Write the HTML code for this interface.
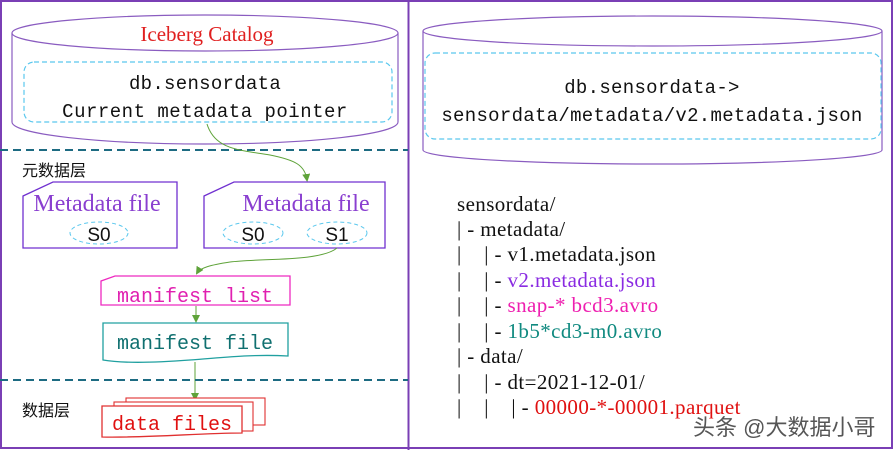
<!DOCTYPE html>
<html><head><meta charset="utf-8"><style>
body{margin:0;background:#fff;}
svg{display:block}
.mono{font-family:"Liberation Mono","Noto Sans CJK SC",monospace;}
.serif{font-family:"Liberation Serif","Noto Serif CJK SC",serif;}
.cjk{font-family:"Liberation Sans","Noto Sans CJK SC",sans-serif;}
</style></head><body>
<svg width="893" height="450" viewBox="0 0 893 450" xmlns="http://www.w3.org/2000/svg">
<defs>
<marker id="ar" markerWidth="8" markerHeight="8" refX="6" refY="4" orient="auto" markerUnits="userSpaceOnUse"><path d="M0,0 L8,4 L0,8 z" fill="#5fa33a"/></marker>
</defs>
<rect x="0" y="0" width="893" height="450" fill="#fff"/>
<rect x="1" y="1" width="891" height="447" fill="none" stroke="#7a3fb5" stroke-width="2"/>
<line x1="408.5" y1="0" x2="408.5" y2="450" stroke="#7a3fb5" stroke-width="2"/>

<!-- left cylinder -->
<path d="M12,33 L12,122 A193,22 0 0 0 398,122 L398,33" fill="#fff" stroke="#8a5cc0" stroke-width="1.2"/>
<ellipse cx="205" cy="33" rx="193" ry="18" fill="#fff" stroke="#8a5cc0" stroke-width="1.2"/>
<text x="207" y="41" text-anchor="middle" class="serif" font-size="21" fill="#e02020">Iceberg Catalog</text>
<rect x="24" y="62" width="368" height="60" rx="10" fill="none" stroke="#5bc8ee" stroke-dasharray="5,3" stroke-width="1.2"/>
<text x="205" y="89" text-anchor="middle" class="mono" font-size="19" letter-spacing="0.3" fill="#111">db.sensordata</text>
<text x="205" y="117" text-anchor="middle" class="mono" font-size="19" letter-spacing="0.5" fill="#111">Current metadata pointer</text>

<line x1="0" y1="150" x2="408" y2="150" stroke="#1d6b82" stroke-width="2" stroke-dasharray="8,5"/>
<text x="22" y="176" class="cjk" font-size="16" fill="#111">元数据层</text>

<path d="M207,124 C215,150 240,150 270,155 C295,160 305,165 307,180" fill="none" stroke="#5fa33a" stroke-width="1" marker-end="url(#ar)"/>

<!-- metadata files -->
<path d="M23,196 L53,182 L177,182 L177,248 L23,248 z" fill="#fff" stroke="#7030d0" stroke-width="1.3"/>
<text x="97" y="211" text-anchor="middle" class="serif" font-size="24" fill="#8a3fd0">Metadata file</text>
<ellipse cx="99" cy="233" rx="29" ry="11" fill="none" stroke="#5bc8ee" stroke-dasharray="4,3"/>
<text x="99" y="241" text-anchor="middle" class="cjk" font-size="19" fill="#111">S0</text>

<path d="M204,196 L234,182 L385,182 L385,248 L204,248 z" fill="#fff" stroke="#7030d0" stroke-width="1.3"/>
<text x="306" y="211" text-anchor="middle" class="serif" font-size="24" fill="#8a3fd0">Metadata file</text>
<ellipse cx="253" cy="233" rx="30" ry="11" fill="none" stroke="#5bc8ee" stroke-dasharray="4,3"/>
<text x="253" y="241" text-anchor="middle" class="cjk" font-size="19" fill="#111">S0</text>
<ellipse cx="337" cy="233" rx="30" ry="11" fill="none" stroke="#5bc8ee" stroke-dasharray="4,3"/>
<text x="337" y="241" text-anchor="middle" class="cjk" font-size="19" fill="#111">S1</text>

<path d="M337,248 C320,262 260,258 230,262 C210,265 200,268 197,273" fill="none" stroke="#5fa33a" stroke-width="1" marker-end="url(#ar)"/>

<!-- manifest list -->
<path d="M101,281 L115,276 L290,276 L290,305 L101,305 z" fill="#fff" stroke="#ee2ac0" stroke-width="1.3"/>
<text x="195" y="302" text-anchor="middle" class="mono" font-size="20" fill="#e020b0">manifest list</text>
<line x1="196" y1="306" x2="196" y2="321" stroke="#5fa33a" marker-end="url(#ar)"/>

<!-- manifest file -->
<path d="M103,323 L288,323 L288,356 C250,354 220,358 190,360 C150,363 120,363 103,360 z" fill="#fff" stroke="#20a0a0" stroke-width="1.3"/>
<text x="195" y="349" text-anchor="middle" class="mono" font-size="20" fill="#107070">manifest file</text>
<line x1="195" y1="362" x2="195" y2="399" stroke="#5fa33a" marker-end="url(#ar)"/>

<line x1="0" y1="380" x2="408" y2="380" stroke="#1d6b82" stroke-width="2" stroke-dasharray="8,5"/>
<text x="22" y="416" class="cjk" font-size="16" fill="#111">数据层</text>

<!-- data files -->
<rect x="126" y="398" width="139" height="27" fill="#fff" stroke="#e03030" stroke-width="1.1"/>
<rect x="114" y="402" width="139" height="29" fill="#fff" stroke="#e03030" stroke-width="1.1"/>
<path d="M102,406 L242,406 L242,433 C200,433 150,438 102,437 z" fill="#fff" stroke="#e03030" stroke-width="1.3"/>
<text x="172" y="430" text-anchor="middle" class="mono" font-size="20" fill="#e01010">data files</text>

<!-- right cylinder -->
<path d="M423,31 L423,150 A229,14 0 0 0 882,150 L882,31" fill="#fff" stroke="#8a5cc0" stroke-width="1.2"/>
<ellipse cx="652.5" cy="31" rx="229.5" ry="15" fill="#fff" stroke="#8a5cc0" stroke-width="1.2"/>
<rect x="425" y="53" width="456" height="86" rx="10" fill="none" stroke="#5bc8ee" stroke-dasharray="5,3" stroke-width="1.2"/>
<text x="652" y="93" text-anchor="middle" class="mono" font-size="19" letter-spacing="0.3" fill="#111">db.sensordata-&gt;</text>
<text x="652" y="121" text-anchor="middle" class="mono" font-size="19" letter-spacing="0.3" fill="#111">sensordata/metadata/v2.metadata.json</text>

<!-- tree -->
<g class="serif" font-size="21" letter-spacing="0.4">
<text x="457" y="211" fill="#111">sensordata/</text>
<text x="457" y="236" fill="#111">| - metadata/</text>
<text x="457" y="261" fill="#111" xml:space="preserve">|    | - v1.metadata.json</text>
<text x="457" y="287" fill="#111" xml:space="preserve">|    | - <tspan fill="#8a2be2">v2.metadata.json</tspan></text>
<text x="457" y="312" fill="#111" xml:space="preserve">|    | - <tspan fill="#ee1fb0">snap-* bcd3.avro</tspan></text>
<text x="457" y="338" fill="#111" xml:space="preserve">|    | - <tspan fill="#108a80">1b5*cd3-m0.avro</tspan></text>
<text x="457" y="363" fill="#111">| - data/</text>
<text x="457" y="389" fill="#111" xml:space="preserve">|    | - dt=2021-12-01/</text>
<text x="457" y="414" fill="#111" xml:space="preserve">|    |    | - <tspan fill="#e01010">00000-*-00001.parquet</tspan></text>
</g>
<text x="693" y="435" class="cjk" font-size="22" fill="#444" opacity="0.9">头条 @大数据小哥</text>
</svg>
</body></html>
